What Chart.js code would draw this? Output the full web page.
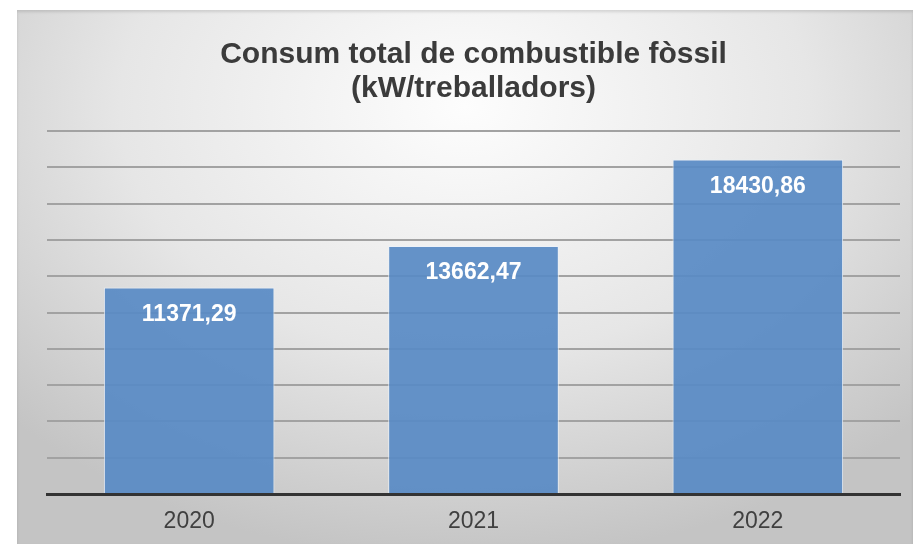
<!DOCTYPE html>
<html>
<head>
<meta charset="utf-8">
<script src="https://cdn.jsdelivr.net/npm/chart.js@4.4.1/dist/chart.umd.min.js"></script>
<style>
    html, body { margin: 0; padding: 0; background: #fff; }
    body { width: 913px; height: 544px; position: relative; overflow: hidden; }
    .frame {
        position: absolute; left: 17px; top: 10px; width: 896px; height: 534px;
        background: radial-gradient(ellipse 70% 85% at 50% 18%, #fdfdfd 0%, #e6e6e6 55%, #c4c4c4 100%);
        box-shadow: inset 0 2px 3px rgba(0,0,0,0.12);
    }
</style>
</head>
<body>
<div class="frame"><canvas id="fuelChart"></canvas></div>
<script>
// Dades del gràfic
const titleLines = ['Consum total de combustible fòssil', '(kW/treballadors)'];
const categories = ['2020', '2021', '2022'];
const values = [11371.29, 13662.47, 18430.86];
const yMax = 20000;
const yStep = 2000;

// Etiquetes de valor dins les barres
const barLabels = {
    id: 'barLabels',
    afterDatasetsDraw(chart) {
        const ctx = chart.ctx;
        const meta = chart.getDatasetMeta(0);
        ctx.save();
        ctx.fillStyle = '#ffffff';
        ctx.font = 'bold 23px "Liberation Sans", Arial, sans-serif';
        ctx.textAlign = 'center';
        ctx.textBaseline = 'middle';
        meta.data.forEach((bar, i) => {
            const text = values[i].toFixed(2).replace('.', ',');
            ctx.fillText(text, bar.x, bar.y + 27);
        });
        ctx.restore();
    }
};

const ctx = document.getElementById('fuelChart').getContext('2d');
new Chart(ctx, {
    type: 'bar',
    data: {
        labels: categories,
        datasets: [{
            data: values,
            backgroundColor: 'rgba(88, 138, 196, 0.92)',
            borderColor: 'rgba(235, 241, 248, 0.9)',
            borderWidth: 1,
            borderSkipped: 'bottom',
            barPercentage: 0.6,
            categoryPercentage: 1
        }]
    },
    options: {
        responsive: true,
        maintainAspectRatio: false,
        animation: false,
        layout: {
            padding: { left: 30, right: 13, top: 0, bottom: 9 }
        },
        plugins: {
            legend: { display: false },
            tooltip: { enabled: false },
            title: {
                display: true,
                text: titleLines,
                color: '#3b3b3b',
                font: { family: '"Liberation Sans", Arial, sans-serif', size: 30, weight: 'bold', lineHeight: 1.15 },
                padding: { top: 27, bottom: 25 }
            }
        },
        scales: {
            x: {
                afterFit: s => { s.height = 41; },
                grid: { display: false, drawTicks: false },
                border: { display: true, color: '#333333', width: 3 },
                ticks: {
                    color: '#404040',
                    padding: 14,
                    font: { family: '"Liberation Sans", Arial, sans-serif', size: 23 }
                }
            },
            y: {
                min: 0,
                max: yMax,
                afterFit: s => { s.width = 0; },
                ticks: { display: false, stepSize: yStep },
                grid: { color: '#a2a2a2', lineWidth: 2, drawTicks: false },
                border: { display: false }
            }
        }
    },
    plugins: [barLabels]
});
</script>
</body>
</html>
